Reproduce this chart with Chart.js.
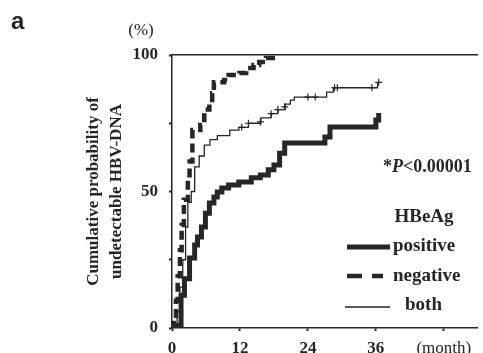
<!DOCTYPE html>
<html>
<head>
<meta charset="utf-8">
<script src="https://cdn.jsdelivr.net/npm/chart.js@4.4.1/dist/chart.umd.min.js"></script>
<style>
 body{margin:0;background:#fff;}
 canvas{display:block;}
</style>
</head>
<body>
<canvas id="km_chart" width="483" height="353"></canvas>
<script>
// values: month / cumulative % (step points)
var pos_month=[0,1.0,1.6,2.2,3.1,4.0,4.5,5.2,5.9,6.6,7.4,8.0,8.8,10.0,11.8,14.0,15.6,17.0,18.0,19.0,19.9,27.0,27.9,36.0,36.5];
var pos_pct  =[0,1,12,18,25.6,30.4,33.3,37,42,45.8,48,49.8,51.3,52.4,53.5,55,56,58,59.7,64,67.8,70,73.6,76.2,78.8];

var neg_month=[0,0.3,0.7,1.0,1.4,1.7,2.1,2.8,3.1,3.6,5.0,5.7,6.6,7.1,7.4,9.2,10.0,11.9,13.1,14.4,15.4,16.6,17.8];
var neg_pct  =[0,3,10,19,28.5,37.7,47,54,61,72.5,74.4,80,82.4,86,90,90.8,92.7,93.4,95.2,96.3,97.4,98.9,100];

var both_month=[0,0.9,1.4,1.9,2.4,2.8,3.4,4.0,4.8,5.7,6.7,8.0,10.2,11.8,13.5,15.7,17.5,18.7,20.0,20.9,21.6,27.3,28.5,36.3];
var both_pct  =[0,6,15,25,37,46,50,59,63,67,69,70.5,72.5,73.5,75,77,78.5,80,82,83.5,84.6,86.4,88,90];

// censored marks on the "both" curve
var cens_month=[12.3,13.5,15.6,17.5,18.7,19.9,24.0,25.3,28.7,29.2,35.3,36.5];
var cens_pct  =[73.5,75,75.5,78.5,80,81,84.6,84.6,88,88,88,90];

var x_ticks=[0,12,24,36,48];
var x_tick_labels=['0','12','24','36','(month)'];
var y_ticks=[0,25,50,75,100];
var y_tick_labels=['0','','50','','100'];

var ink='#262626';
var serif='"Liberation Serif","DejaVu Serif",serif';

function pts(xs,ys)
{
 var out=[];
 for(var i=0;i<xs.length;i++) out.push({x:xs[i],y:ys[i]});
 return out;
}

// texts that sit inside the plot: p value and the HBeAg key
var labels_plugin={
 id:'labels_plugin',
 afterDraw:function(chart)
 {
  var ctx=chart.ctx;
  ctx.save();
  ctx.fillStyle=ink;
  ctx.strokeStyle=ink;
  ctx.textBaseline='middle';

  ctx.font='bold 24px "Liberation Sans",Arial,sans-serif';
  ctx.fillText('a',11,22);

  ctx.font='17px '+serif;
  ctx.textAlign='center';
  ctx.fillText('(%)',141,31);
  ctx.textAlign='left';

  // *P<0.00001
  var x=383;
  ctx.font='bold 18px '+serif;
  ctx.fillText('*',x,167);
  x+=ctx.measureText('*').width;
  ctx.font='italic bold 18px '+serif;
  ctx.fillText('P',x,167);
  x+=ctx.measureText('P').width;
  ctx.font='bold 18px '+serif;
  ctx.fillText('<0.00001',x,167);

  ctx.font='bold 19px '+serif;
  ctx.textAlign='center';
  ctx.fillText('HBeAg',424,217);
  ctx.textAlign='left';
  ctx.fillText('positive',393,246);
  ctx.fillText('negative',393,276);
  ctx.fillText('both',405,305);

  ctx.lineCap='butt';
  ctx.lineWidth=5;
  ctx.beginPath(); ctx.moveTo(347,247); ctx.lineTo(390,247); ctx.stroke();
  ctx.lineWidth=4.5;
  ctx.beginPath(); ctx.moveTo(347,276); ctx.lineTo(362,276); ctx.moveTo(372,276); ctx.lineTo(383,276); ctx.stroke();
  ctx.lineWidth=1.3;
  ctx.beginPath(); ctx.moveTo(345,307); ctx.lineTo(390,307); ctx.stroke();
  ctx.restore();
 }
};

var chartid=document.getElementById('km_chart');
var chart_obj=new Chart(chartid,{
  type:'line',
  data:
  {
   datasets:[{
     label:'positive',
     data:pts(pos_month,pos_pct),
     stepped:true,
     borderColor:ink,
     borderWidth:5,
     pointRadius:0,
     fill:false
    },{
     label:'negative',
     data:pts(neg_month,neg_pct),
     stepped:true,
     borderColor:ink,
     borderWidth:4.5,
     borderDash:[9,5],
     pointRadius:0,
     fill:false
    },{
     label:'both',
     data:pts(both_month,both_pct),
     stepped:true,
     borderColor:ink,
     borderWidth:1.3,
     pointRadius:0,
     fill:false
    },{
     label:'censored',
     data:pts(cens_month,cens_pct),
     showLine:false,
     pointStyle:'cross',
     pointRadius:3.5,
     pointBorderWidth:1.2,
     pointBorderColor:ink,
     pointBackgroundColor:ink
    }]
  },
  options:
  {
   responsive:false,
   animation:false,
   layout:{padding:{left:82,top:55,right:0,bottom:0}},
   plugins:{legend:{display:false},tooltip:{enabled:false}},
   scales:
   {
    x:{
     type:'linear',
     min:0,
     max:54,
     afterBuildTicks:function(scale){ scale.ticks=x_ticks.map(function(v){return {value:v};}); },
     afterFit:function(scale){ scale.height=25; },
     ticks:{
      color:ink,
      padding:7,
      maxRotation:0,
      autoSkip:false,
      font:function(c){ return {family:serif,size:17,weight:(c.tick && c.tick.value===48)?'normal':'bold'}; },
      callback:function(v){ var i=x_ticks.indexOf(v); return i<0?'':x_tick_labels[i]; }
     },
     grid:{drawOnChartArea:false,tickLength:3,tickColor:ink,tickWidth:2},
     border:{color:ink,width:1.5}
    },
    xTop:{
     type:'linear',
     position:'top',
     min:0,
     max:54,
     afterFit:function(scale){ scale.height=0; },
     ticks:{display:false},
     grid:{display:false,drawTicks:false},
     border:{color:ink,width:1.5}
    },
    y:{
     min:0,
     max:100,
     afterBuildTicks:function(scale){ scale.ticks=y_ticks.map(function(v){return {value:v};}); },
     afterFit:function(scale){ scale.width=90; },
     ticks:{
      color:ink,
      padding:11,
      font:{family:serif,size:17,weight:'bold'},
      callback:function(v){ var i=y_ticks.indexOf(v); return i<0?'':y_tick_labels[i]; }
     },
     grid:{drawOnChartArea:false,tickLength:3,tickColor:ink,tickWidth:2},
     border:{color:ink,width:1.5},
     title:{
      display:true,
      text:['Cumulative probability of','undetectable HBV-DNA'],
      color:ink,
      padding:{top:0,bottom:0},
      font:{family:serif,size:17,weight:'bold',lineHeight:1.35}
     }
    }
   }
  },
  plugins:[labels_plugin]
});
</script>
</body>
</html>
